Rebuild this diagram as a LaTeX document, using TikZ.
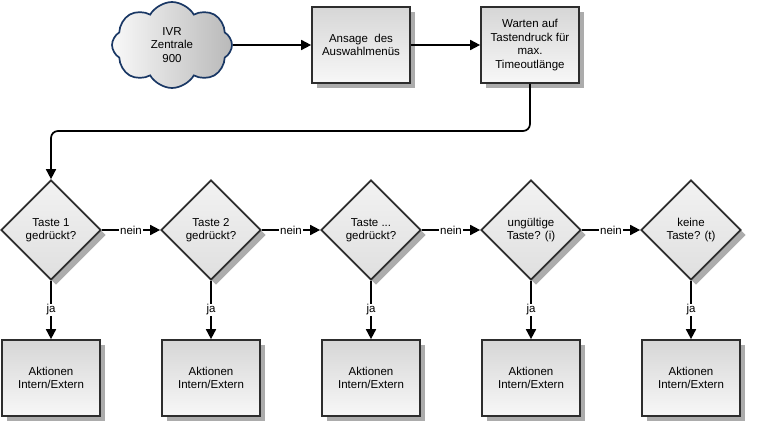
\documentclass[tikz,border=0pt]{standalone}
\usepackage{fontspec}
\setmainfont{Liberation Sans}
\usepackage{xcolor}
\usetikzlibrary{shapes.geometric,shapes.symbols,shadows,arrows.meta}

\definecolor{wolkenrand}{RGB}{25,55,100}
\definecolor{rand}{RGB}{45,45,45}

\tikzset{
 schritt/.style={draw=rand, line width=1.7pt, rectangle, align=center,
  top color=gray!32, bottom color=gray!6,
  minimum width=98pt, minimum height=76pt, inner sep=2pt,
  drop shadow={shadow xshift=5pt, shadow yshift=-5pt, fill=gray!65, opacity=1}},
 frage/.style={draw=rand, line width=1.7pt, diamond, aspect=1, align=center,
  top color=gray!10, bottom color=gray!25,
  minimum width=100pt, minimum height=100pt, inner sep=0pt,
  drop shadow={shadow xshift=5pt, shadow yshift=-5pt, fill=gray!65, opacity=1}},
 wolke/.style={draw=wolkenrand, line width=1.7pt, cloud, cloud puffs=8,
  cloud puff arc=120, aspect=1.4, align=center,
  left color=gray!5, right color=gray!55,
  minimum width=120pt, minimum height=86pt, inner sep=0pt},
 fluss/.style={line width=1.7pt, -{Triangle[length=10pt,width=10pt]}},
 marke/.style={fill=white, inner sep=1pt}
}

\begin{document}
\begin{tikzpicture}[x=1pt, y=-1pt, font=\fontsize{11.5}{13.5}\selectfont]
 \useasboundingbox (0,0) rectangle (761,436);

 % obere Reihe
 \node[wolke] (ivr) at (172,45) {IVR\\Zentrale\\900};
 \node[schritt] (ansage) at (361,45) {Ansage\ \ des\\Auswahlmenüs};
 \node[schritt] (warten) at (530,45) {Warten auf\\Tastendruck für\\max.\\Timeoutlänge};

 % Abfragen
 \node[frage] (taste1) at (51,230) {Taste 1\\gedrückt?};
 \node[frage] (taste2) at (211,230) {Taste 2\\gedrückt?};
 \node[frage] (tasteX) at (371,230) {Taste ...\\gedrückt?};
 \node[frage] (ungueltig) at (531,230) {ungültige\\Taste? (i)};
 \node[frage] (keine) at (691,230) {keine\\Taste? (t)};

 % Aktionen
 \node[schritt] (akt1) at (51,378) {Aktionen\\Intern/Extern};
 \node[schritt] (akt2) at (211,378) {Aktionen\\Intern/Extern};
 \node[schritt] (aktX) at (371,378) {Aktionen\\Intern/Extern};
 \node[schritt] (aktI) at (531,378) {Aktionen\\Intern/Extern};
 \node[schritt] (aktT) at (691,378) {Aktionen\\Intern/Extern};

 \coordinate (knick) at (51,131);

 \draw[fluss] (ivr.east) -- (ansage.west);
 \draw[fluss] (ansage.east) -- (warten.west);
 \draw[fluss, rounded corners=7pt] (warten.south) |- (knick) -- (taste1.north);

 \draw[fluss] (taste1.east) -- node[marke] {nein} (taste2.west);
 \draw[fluss] (taste2.east) -- node[marke] {nein} (tasteX.west);
 \draw[fluss] (tasteX.east) -- node[marke] {nein} (ungueltig.west);
 \draw[fluss] (ungueltig.east) -- node[marke] {nein} (keine.west);

 \draw[fluss] (taste1.south) -- node[marke] {ja} (akt1.north);
 \draw[fluss] (taste2.south) -- node[marke] {ja} (akt2.north);
 \draw[fluss] (tasteX.south) -- node[marke] {ja} (aktX.north);
 \draw[fluss] (ungueltig.south) -- node[marke] {ja} (aktI.north);
 \draw[fluss] (keine.south) -- node[marke] {ja} (aktT.north);

\end{tikzpicture}
\end{document}
